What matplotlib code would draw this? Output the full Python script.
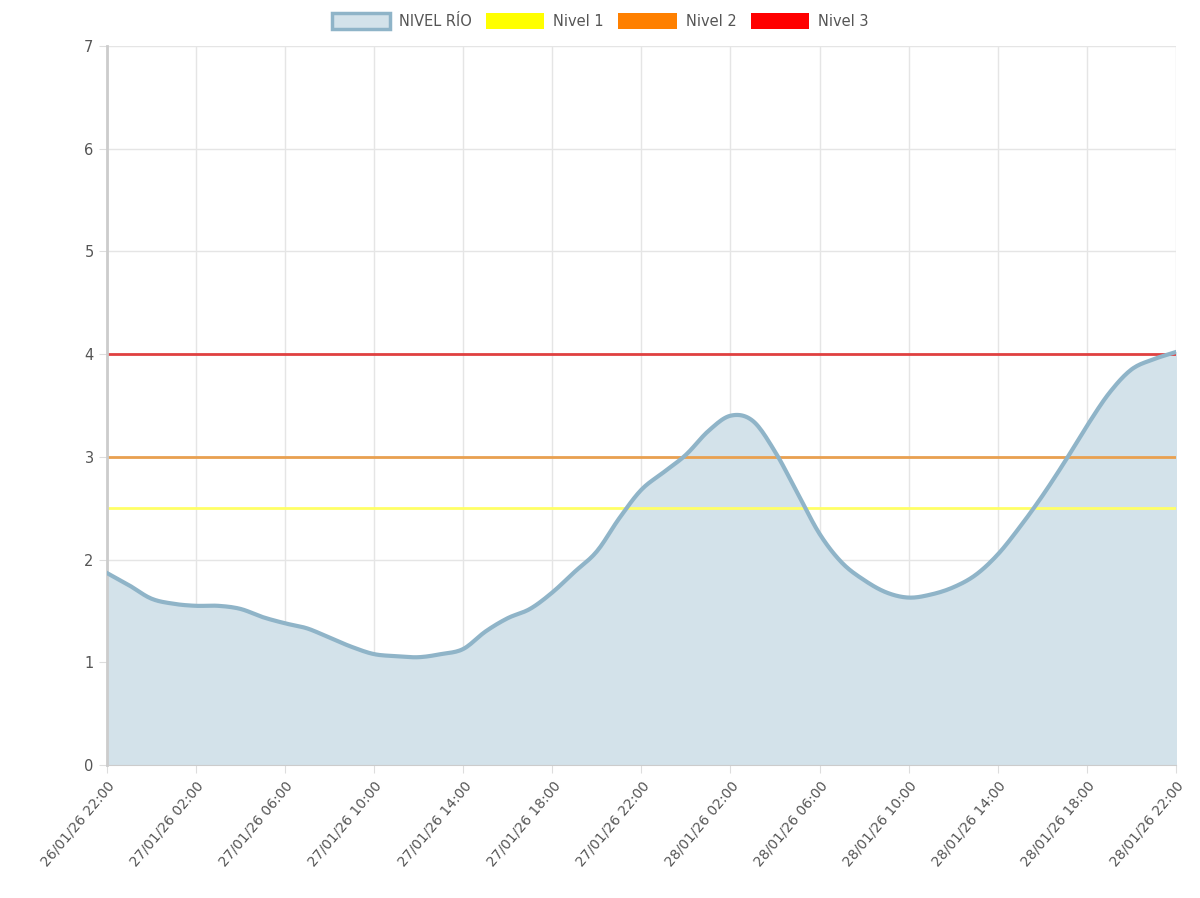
import matplotlib
matplotlib.use("Agg")
import matplotlib.pyplot as plt
from matplotlib.patches import Patch
import numpy as np

hours = list(range(49))
nivel_rio = [1.87,1.75,1.62,1.57,1.55,1.55,1.52,1.44,1.38,1.33,1.24,1.15,1.08,1.06,1.05,1.08,1.13,
             1.30,1.43,1.52,1.68,1.88,2.08,2.40,2.68,2.85,3.02,3.25,3.40,3.35,3.05,2.65,2.25,1.97,
             1.80,1.68,1.63,1.66,1.73,1.85,2.05,2.32,2.62,2.95,3.30,3.62,3.85,3.95,4.02]
nivel1, nivel2, nivel3 = 2.5, 3.0, 4.0
tick_labels = ["26/01/26 22:00","27/01/26 02:00","27/01/26 06:00","27/01/26 10:00","27/01/26 14:00",
               "27/01/26 18:00","27/01/26 22:00","28/01/26 02:00","28/01/26 06:00","28/01/26 10:00",
               "28/01/26 14:00","28/01/26 18:00","28/01/26 22:00"]

# smooth rendering (Chart.js-like tension) via cubic Hermite with central-difference slopes
x = np.array(hours, float); y = np.array(nivel_rio)
m = np.gradient(y, x)
xs, ys = [], []
for i in range(len(x) - 1):
    t = np.linspace(0, 1, 12, endpoint=False)
    h = x[i+1] - x[i]
    h00 = 2*t**3 - 3*t**2 + 1; h10 = t**3 - 2*t**2 + t
    h01 = -2*t**3 + 3*t**2; h11 = t**3 - t**2
    xs.extend(x[i] + t*h)
    ys.extend(h00*y[i] + h10*h*m[i] + h01*y[i+1] + h11*h*m[i+1])
xs.append(x[-1]); ys.append(y[-1])

fig = plt.figure(figsize=(12, 8.98), dpi=100)
ax = fig.add_axes([0.089, 0.148, 0.891, 0.801])
ax.fill_between(xs, ys, 0, color="#d3e2ea", zorder=1)
ax.plot(xs, ys, color="#8fb4c8", lw=3, zorder=3)
ax.axhline(nivel1, color="#ffff66", lw=2, zorder=2)
ax.axhline(nivel2, color="#e9a050", lw=2, zorder=2)
ax.axhline(nivel3, color="#e04040", lw=2, zorder=2)
ax.set_xlim(0, 48); ax.set_ylim(0, 7)
ax.set_xticks(range(0, 49, 4))
ax.set_xticklabels(tick_labels, rotation=50, ha="right", rotation_mode="anchor", fontsize=10, color="#555")
ax.set_yticks(range(8))
ax.tick_params(axis="y", labelsize=10.5, labelcolor="#555", length=6, color="#ddd")
ax.tick_params(axis="x", length=6, color="#ddd")
ax.grid(True, color="#e5e5e5", lw=1)
ax.set_axisbelow(True)
for s in ["top", "right"]:
    ax.spines[s].set_visible(False)
ax.spines["left"].set_color("#ccc"); ax.spines["left"].set_linewidth(2)
ax.spines["bottom"].set_color("#ccc")
handles = [Patch(facecolor="#d3e2ea", edgecolor="#8fb4c8", lw=2.5, label="NIVEL RÍO"),
           Patch(facecolor="#ffff00", label="Nivel 1"),
           Patch(facecolor="#ff8000", label="Nivel 2"),
           Patch(facecolor="#ff0000", label="Nivel 3")]
fig.legend(handles=handles, loc="upper center", bbox_to_anchor=(0.5, 1.0), ncol=4, frameon=False,
           fontsize=10.5, handlelength=4, handleheight=1.3, columnspacing=1, handletextpad=0.6,
           labelcolor="#555")
fig.savefig("out.png")
